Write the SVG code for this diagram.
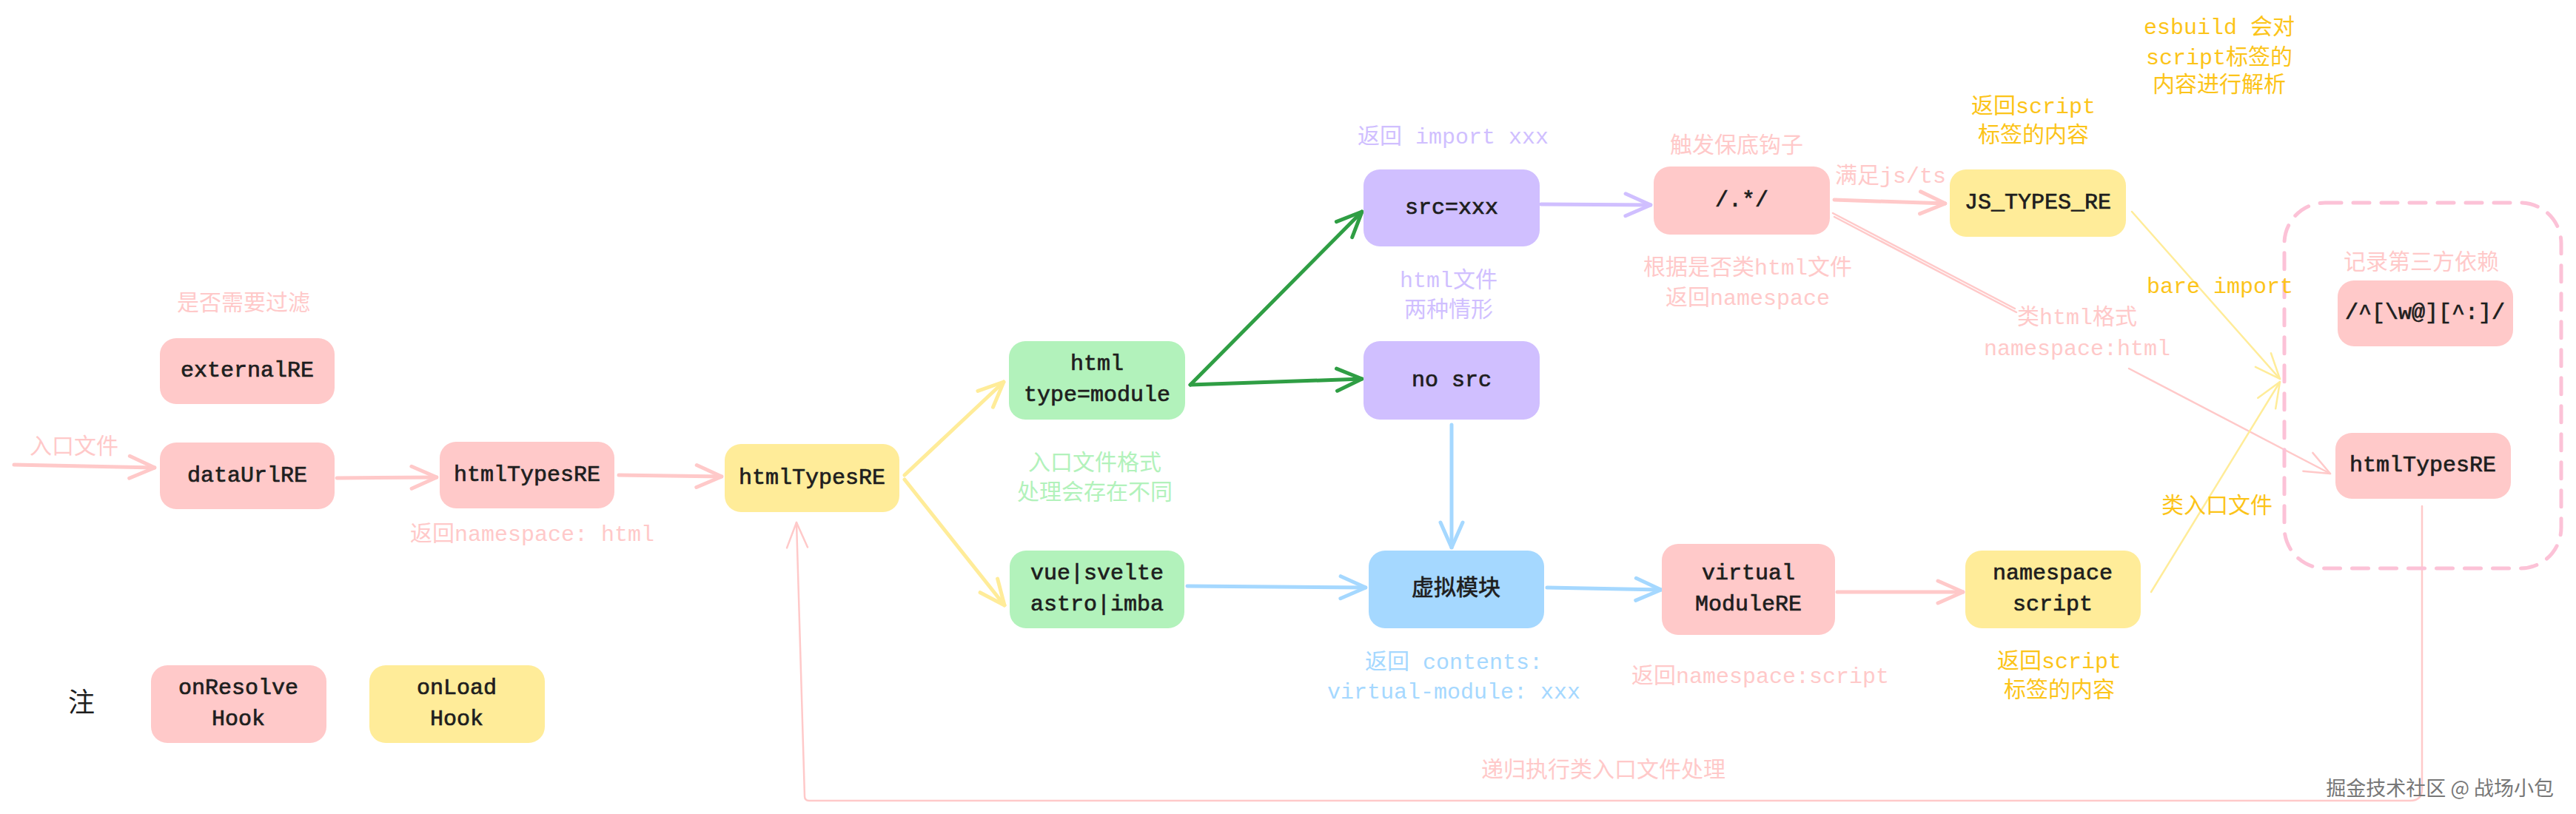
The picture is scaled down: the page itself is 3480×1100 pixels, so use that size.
<svg xmlns="http://www.w3.org/2000/svg" width="3480" height="1100" viewBox="0 0 3480 1100">
<style>
  .bt{font-family:"Liberation Mono","Noto Sans CJK SC",monospace;font-size:30px;fill:#1e1e1e;stroke:#1e1e1e;stroke-width:0.7px;text-anchor:middle;dominant-baseline:central}
  .lb{font-family:"Liberation Mono","Noto Sans CJK SC",monospace;font-size:30px;text-anchor:middle;dominant-baseline:central}
  .pk{fill:#ffc9c9}.yl{fill:#ffec99}.gr{fill:#b2f2bb}.pu{fill:#d0bfff}.bl{fill:#a5d8ff}
  .tpk{fill:#ffc9c9}.tyl{fill:#fcc419}.tgr{fill:#b2f2bb}.tpu{fill:#d0bfff}.tbl{fill:#a5d8ff}
  .c{fill:none;stroke-linecap:round;stroke-linejoin:round}
  .cpk{stroke:#ffc9c9;stroke-width:5}
  .cyl{stroke:#ffec99;stroke-width:5}
  .cgr{stroke:#2f9e44;stroke-width:5}
  .cpu{stroke:#d0bfff;stroke-width:5}
  .cbl{stroke:#a5d8ff;stroke-width:5}
  .thinpk{stroke:#ffc9c9;stroke-width:2.5}
  .thinyl{stroke:#ffec99;stroke-width:2.5}
</style>
<defs>
  <marker id="apk" viewBox="0 0 40 40" refX="38" refY="20" markerWidth="40" markerHeight="40" markerUnits="userSpaceOnUse" orient="auto"><path d="M4,5 L38,20 L4,35" fill="none" stroke="#ffc9c9" stroke-width="5" stroke-linecap="round" stroke-linejoin="round"/></marker>
  <marker id="ayl" viewBox="0 0 40 40" refX="38" refY="20" markerWidth="40" markerHeight="40" markerUnits="userSpaceOnUse" orient="auto"><path d="M4,5 L38,20 L4,35" fill="none" stroke="#ffec99" stroke-width="5" stroke-linecap="round" stroke-linejoin="round"/></marker>
  <marker id="agr" viewBox="0 0 40 40" refX="38" refY="20" markerWidth="40" markerHeight="40" markerUnits="userSpaceOnUse" orient="auto"><path d="M4,5 L38,20 L4,35" fill="none" stroke="#2f9e44" stroke-width="5" stroke-linecap="round" stroke-linejoin="round"/></marker>
  <marker id="apu" viewBox="0 0 40 40" refX="38" refY="20" markerWidth="40" markerHeight="40" markerUnits="userSpaceOnUse" orient="auto"><path d="M4,5 L38,20 L4,35" fill="none" stroke="#d0bfff" stroke-width="5" stroke-linecap="round" stroke-linejoin="round"/></marker>
  <marker id="abl" viewBox="0 0 40 40" refX="38" refY="20" markerWidth="40" markerHeight="40" markerUnits="userSpaceOnUse" orient="auto"><path d="M4,5 L38,20 L4,35" fill="none" stroke="#a5d8ff" stroke-width="5" stroke-linecap="round" stroke-linejoin="round"/></marker>
  <marker id="apkt" viewBox="0 0 40 40" refX="38" refY="20" markerWidth="40" markerHeight="40" markerUnits="userSpaceOnUse" orient="auto"><path d="M4,6 L38,20 L4,34" fill="none" stroke="#ffc9c9" stroke-width="2.5" stroke-linecap="round" stroke-linejoin="round"/></marker>
  <marker id="aylt" viewBox="0 0 40 40" refX="38" refY="20" markerWidth="40" markerHeight="40" markerUnits="userSpaceOnUse" orient="auto"><path d="M4,6 L38,20 L4,34" fill="none" stroke="#ffec99" stroke-width="2.5" stroke-linecap="round" stroke-linejoin="round"/></marker>
</defs>
<rect width="3480" height="1100" fill="#ffffff"/>

<g id="connectors">
  <path class="c cpk" d="M19,628 L209,632" marker-end="url(#apk)"/>
  <path class="c cpk" d="M455,646 L590,645" marker-end="url(#apk)"/>
  <path class="c cpk" d="M836,642 L975,644" marker-end="url(#apk)"/>
  <path class="c cyl" d="M1222,642 L1356,516" marker-end="url(#ayl)"/>
  <path class="c cyl" d="M1222,648 L1357,818" marker-end="url(#ayl)"/>
  <path class="c cgr" d="M1608,520 L1840,286" marker-end="url(#agr)"/>
  <path class="c cgr" d="M1608,520 L1840,512" marker-end="url(#agr)"/>
  <path class="c cpu" d="M2082,276 L2230,277" marker-end="url(#apu)"/>
  <path class="c cbl" d="M1961,574 L1961,740" marker-end="url(#abl)"/>
  <path class="c cbl" d="M1604,792 L1845,794" marker-end="url(#abl)"/>
  <path class="c cbl" d="M2090,794 L2244,797" marker-end="url(#abl)"/>
  <path class="c cpk" d="M2482,800 L2652,800" marker-end="url(#apk)"/>
  <path class="c cpk" d="M2478,270 L2628,275" marker-end="url(#apk)"/>
  <path class="c thinpk" d="M2476,288 L2722,417"/>
  <path class="c thinpk" d="M2478,293 L2724,422" stroke-width="1.5"/>
  <path class="c thinpk" d="M2876,498 L3148,640" marker-end="url(#apkt)"/>
  <path class="c thinyl" d="M2880,286 L3080,512" marker-end="url(#aylt)"/>
  <path class="c thinyl" d="M2906,800 L3080,516" marker-end="url(#aylt)"/>
  <path class="c thinpk" d="M3272,684 L3272,1066 Q3272,1082 3256,1082 L1093,1082 Q1087,1082 1087,1076 L1076,706" marker-end="url(#apkt)"/>
</g>

<g id="group-thirdparty">
  <rect x="3086" y="274" width="374" height="494" rx="55" fill="none" stroke="#fcc2d7" stroke-width="5" stroke-dasharray="22 16" stroke-linecap="round"/>
</g>

<g id="externalRE"><rect class="pk" x="216" y="457" width="236" height="89" rx="22"/><text class="bt" x="334" y="501">externalRE</text></g>
<g id="dataUrlRE"><rect class="pk" x="216" y="598" width="236" height="90" rx="22"/><text class="bt" x="334" y="643">dataUrlRE</text></g>
<g id="htmlTypesRE-resolve"><rect class="pk" x="594" y="597" width="236" height="90" rx="22"/><text class="bt" x="712" y="642">htmlTypesRE</text></g>
<g id="htmlTypesRE-load"><rect class="yl" x="979" y="600" width="236" height="92" rx="22"/><text class="bt" x="1097" y="646">htmlTypesRE</text></g>
<g id="html-module"><rect class="gr" x="1363" y="461" width="238" height="106" rx="22"/><text class="bt" x="1482" y="492">html</text><text class="bt" x="1482" y="534">type=module</text></g>
<g id="vue-svelte"><rect class="gr" x="1364" y="744" width="236" height="105" rx="22"/><text class="bt" x="1482" y="775">vue|svelte</text><text class="bt" x="1482" y="817">astro|imba</text></g>
<g id="src-xxx"><rect class="pu" x="1842" y="229" width="238" height="104" rx="22"/><text class="bt" x="1961" y="281">src=xxx</text></g>
<g id="no-src"><rect class="pu" x="1842" y="461" width="238" height="106" rx="22"/><text class="bt" x="1961" y="514">no src</text></g>
<g id="virtual-module"><rect class="bl" x="1849" y="744" width="237" height="105" rx="22"/><text class="bt" x="1967" y="796">虚拟模块</text></g>
<g id="virtualModuleRE"><rect class="pk" x="2245" y="735" width="234" height="123" rx="22"/><text class="bt" x="2362" y="775">virtual</text><text class="bt" x="2362" y="817">ModuleRE</text></g>
<g id="fallback"><rect class="pk" x="2234" y="225" width="238" height="92" rx="22"/><text class="bt" x="2353" y="271">/.*/</text></g>
<g id="JS_TYPES_RE"><rect class="yl" x="2634" y="229" width="238" height="91" rx="22"/><text class="bt" x="2753" y="274">JS_TYPES_RE</text></g>
<g id="namespace-script"><rect class="yl" x="2655" y="744" width="237" height="105" rx="22"/><text class="bt" x="2773" y="775">namespace</text><text class="bt" x="2773" y="817">script</text></g>
<g id="bare-import-RE"><rect class="pk" x="3158" y="379" width="237" height="89" rx="22"/><text class="bt" x="3276" y="423">/^[\w@][^:]/</text></g>
<g id="htmlTypesRE-group"><rect class="pk" x="3155" y="585" width="237" height="89" rx="22"/><text class="bt" x="3273" y="629">htmlTypesRE</text></g>
<g id="legend-onResolve"><rect class="pk" x="204" y="899" width="237" height="105" rx="22"/><text class="bt" x="322" y="930">onResolve</text><text class="bt" x="322" y="972">Hook</text></g>
<g id="legend-onLoad"><rect class="yl" x="499" y="899" width="237" height="105" rx="22"/><text class="bt" x="617" y="930">onLoad</text><text class="bt" x="617" y="972">Hook</text></g>

<g id="labels">
  <text class="lb tpk" x="329" y="411">是否需要过滤</text>
  <text class="lb tpk" x="100" y="605">入口文件</text>
  <text class="lb tpk" x="719" y="723">返回namespace: html</text>
  <text class="lb tgr" x="1479" y="627">入口文件格式</text>
  <text class="lb tgr" x="1479" y="667">处理会存在不同</text>
  <text class="lb tpu" x="1963" y="186">返回 import xxx</text>
  <text class="lb tpu" x="1957" y="380">html文件</text>
  <text class="lb tpu" x="1957" y="420">两种情形</text>
  <text class="lb tbl" x="1964" y="896">返回 contents:</text>
  <text class="lb tbl" x="1964" y="936">virtual-module: xxx</text>
  <text class="lb tpk" x="2378" y="915">返回namespace:script</text>
  <text class="lb tpk" x="2346" y="198">触发保底钩子</text>
  <text class="lb tpk" x="2361" y="363">根据是否类html文件</text>
  <text class="lb tpk" x="2361" y="404">返回namespace</text>
  <text class="lb tpk" x="2554" y="239">满足js/ts</text>
  <text class="lb tyl" x="2747" y="145">返回script</text>
  <text class="lb tyl" x="2747" y="184">标签的内容</text>
  <text class="lb tyl" x="2998" y="38">esbuild 会对</text>
  <text class="lb tyl" x="2998" y="79">script标签的</text>
  <text class="lb tyl" x="2998" y="116">内容进行解析</text>
  <text class="lb tyl" x="2999" y="388">bare import</text>
  <text class="lb tpk" x="2806" y="430">类html格式</text>
  <text class="lb tpk" x="2806" y="472">namespace:html</text>
  <text class="lb tpk" x="3271" y="356">记录第三方依赖</text>
  <text class="lb tyl" x="2995" y="685">类入口文件</text>
  <text class="lb tyl" x="2782" y="895">返回script</text>
  <text class="lb tyl" x="2782" y="934">标签的内容</text>
  <text class="lb tpk" x="2166" y="1042">递归执行类入口文件处理</text>
  <text x="110" y="946" font-family="'Noto Sans CJK SC',sans-serif" font-size="36" fill="#1e1e1e" text-anchor="middle" dominant-baseline="central">注</text>
  <text x="3450" y="1063" font-family="'Noto Sans CJK SC',sans-serif" font-size="27" fill="#777777" text-anchor="end" dominant-baseline="central">掘金技术社区 @ 战场小包</text>
</g>
</svg>
